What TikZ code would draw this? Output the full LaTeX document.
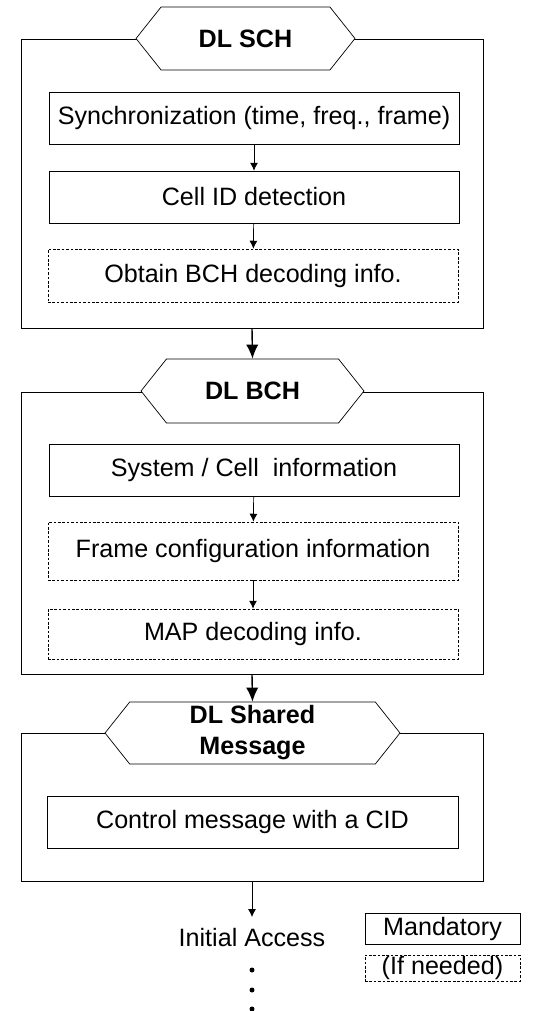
\documentclass[tikz,border=0pt]{standalone}
\usepackage{fontspec}
\setmainfont{Liberation Sans}
\usetikzlibrary{positioning, arrows.meta, shapes.symbols}

\begin{document}
\begin{tikzpicture}[x=0.02cm, y=-0.02cm]

% Define styles
\tikzset{
  frame/.style={draw, thin, minimum width=9.24cm, inner sep=0pt},
  hexhead/.style={signal, signal to=west and east, signal pointer angle=103,
    draw, thin, fill=white, font=\bfseries, align=center, inner sep=0pt},
  stepbox/.style={draw, thin, minimum width=8.2cm, minimum height=1.04cm, inner sep=0pt},
  optbox/.style={stepbox, dash pattern=on 1.5pt off 1pt},
  flow/.style={thin, -{Latex[length=4.5pt, width=4.5pt]}},
  bigflow/.style={thick, -{Latex[length=8pt, width=7pt]}},
}
\fontsize{14.3}{17.6}\selectfont
\useasboundingbox (0,0) rectangle (535,1011);

% Draw the frames
\node[frame, minimum height=5.78cm] (f1) at (252,183.5) {};
\node[frame, minimum height=5.64cm] (f2) at (252,533) {};
\node[frame, minimum height=2.96cm] (f3) at (252,807) {};

% Headers
\node[hexhead, minimum width=4.38cm, minimum height=1.26cm] (sch) at (245.5,38.5) {DL SCH};
\node[hexhead, minimum width=4.46cm, minimum height=1.28cm] (bch) at (252.5,391) {DL BCH};
\node[hexhead, minimum width=5.9cm, minimum height=1.24cm] (shm) at (252.5,733) {DL Shared\\Message};

% Steps of DL SCH
\node[stepbox] (sync) at (254,118) {Synchronization (time, freq., frame)};
\node[stepbox] (cellid) at (254,197) {Cell ID detection};
\node[optbox, minimum height=1.06cm] (bchinfo) at (253,275.5) {Obtain BCH decoding info.};

% Steps of DL BCH
\node[stepbox] (sysinfo) at (254,470) {System / Cell\ \ information};
\node[optbox, minimum height=1.16cm] (frameinfo) at (253,551) {Frame configuration information};
\node[optbox, minimum height=1cm] (mapinfo) at (253,634) {MAP decoding info.};

% Step of DL Shared Message
\node[stepbox, minimum width=8.22cm] (ctrl) at (252.5,822) {Control message with a CID};

% Arrows
\draw[flow] (sync) -- (cellid);
\draw[flow] (cellid) -- (bchinfo);
\draw[flow] (sysinfo) -- (frameinfo);
\draw[flow] (frameinfo) -- (mapinfo);
\draw[bigflow] (f1.south) -- (bch.north);
\draw[bigflow] (f2.south) -- (shm.north);

% Initial access and the dots
\node[inner sep=0pt, anchor=north] (access) at (252,928) {Initial Access};
\draw[flow, shorten >=0.22cm] (f3.south) -- (access.north);
\foreach \y in {970,990,1009}
  \fill (252,\y) circle (0.05cm);

% Legend
\node[draw, thin, minimum width=3.1cm, minimum height=0.62cm, inner sep=0pt] (mand) at (442.5,928.5) {Mandatory};
\node[draw, thin, dash pattern=on 1.5pt off 1pt, minimum width=3.1cm, minimum height=0.52cm, inner sep=0pt] (ifneed) at (442.5,968) {(If needed)};

\end{tikzpicture}
\end{document}
